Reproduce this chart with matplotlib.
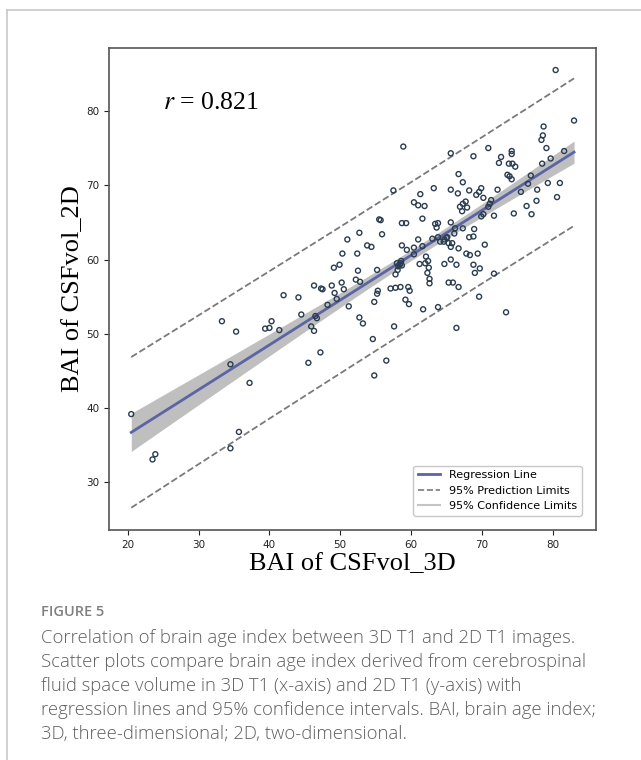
import numpy as np
import matplotlib
matplotlib.use("Agg")
import matplotlib.pyplot as plt
from matplotlib.lines import Line2D

# BAI of CSFvol_3D (x) vs BAI of CSFvol_2D (y)
bai_3d = [
    20.5, 23.5, 23.9, 33.3, 34.5, 34.5, 35.3, 35.7, 37.2, 39.4, 40.0, 40.3, 41.4, 42.0,
    44.1, 44.5, 45.5, 45.9, 46.3, 46.5, 46.7, 46.3, 47.3, 47.5, 47.2, 48.2, 48.8, 49.2,
    49.5, 50.2, 50.5, 51.2,
    49.1, 49.9, 52.5, 52.2, 52.8, 52.7, 53.2, 55.2, 55.3, 55.2, 54.8, 54.6, 56.5, 57.6,
    57.1, 57.8, 58.5, 59.6, 59.8, 59.2, 59.7, 58.1, 57.8, 58.4, 58.5, 58.0, 58.2, 58.6,
    58.7, 61.2, 62.5, 62.3, 62.6, 62.6, 61.7, 63.8, 64.7, 65.3, 65.9, 66.7, 69.6, 73.4,
    66.4, 54.8,
    51.0, 52.7, 55.5, 55.7, 55.9, 53.8, 54.4, 50.3, 52.4, 57.5, 58.9, 61.3, 63.2, 60.4,
    61.0, 61.9, 61.6, 63.4, 63.8, 63.6, 58.7, 59.3, 58.7, 59.4, 61.0, 63.0, 63.8, 64.1,
    64.7, 65.0, 65.3, 60.4, 62.1, 60.4, 61.6, 62.0, 62.4,
    65.6, 66.6, 68.2, 69.2, 69.6, 69.9, 70.2, 72.2, 75.5, 77.8, 77.7, 80.6, 76.3, 77.0,
    74.5, 71.7, 71.3, 71.1, 70.9, 70.2, 69.9, 67.7, 67.3, 66.9, 67.2, 67.9, 65.6, 67.3,
    66.2, 68.9, 68.8, 68.2, 66.1, 65.1, 64.6, 65.8, 65.6, 66.7, 70.4, 67.8, 68.3, 69.4,
    65.6, 66.4, 69.7, 69.0, 71.7, 68.8,
    80.4, 83.0, 78.7, 78.6, 78.4, 79.1, 81.6, 79.7, 78.5, 76.9, 79.3, 81.0, 76.5, 74.2,
    74.2, 73.8, 74.3, 74.7, 73.6, 73.9, 74.2, 72.7, 72.4, 70.9, 68.8, 65.6, 66.7, 67.3,
]
bai_2d = [
    39.2, 33.1, 33.8, 51.7, 45.9, 34.6, 50.3, 36.8, 43.4, 50.7, 50.8, 51.7, 50.5, 55.2,
    54.9, 52.6, 46.1, 51.0, 50.4, 52.4, 52.1, 56.5, 56.1, 56.0, 47.5, 53.9, 56.5, 55.5,
    54.7, 56.9, 56.0, 53.7,
    58.9, 59.3, 58.5, 57.3, 57.0, 52.2, 51.4, 58.6, 55.8, 55.4, 54.3, 49.3, 46.4, 51.0,
    56.1, 56.2, 56.3, 56.3, 55.8, 54.6, 54.0, 58.6, 58.0, 59.3, 59.5, 59.5, 59.1, 59.8,
    59.2, 59.4, 58.9, 58.2, 57.4, 56.8, 53.3, 53.6, 59.4, 56.9, 56.9, 56.3, 55.0, 52.9,
    50.8, 44.4,
    62.7, 63.6, 65.4, 65.3, 63.4, 61.9, 61.7, 60.8, 60.8, 69.3, 75.2, 68.8, 69.6, 67.7,
    67.3, 67.2, 65.5, 64.8, 64.9, 64.3, 64.9, 64.9, 61.9, 61.3, 62.7, 62.8, 63.0, 62.4,
    62.7, 62.9, 62.2, 60.7, 60.4, 61.6, 61.8, 59.5, 59.8,
    69.4, 68.9, 69.3, 68.7, 69.1, 69.6, 68.3, 69.4, 69.1, 69.4, 67.9, 68.4, 67.2, 66.1,
    66.2, 65.9, 68.0, 67.5, 67.1, 66.1, 65.8, 67.8, 67.5, 67.1, 66.5, 67.0, 65.0, 64.2,
    64.2, 64.1, 63.1, 63.0, 63.5, 63.0, 62.4, 62.2, 61.7, 61.5, 62.0, 60.8, 60.6, 60.8,
    60.0, 59.3, 58.8, 58.2, 58.1, 59.3,
    85.5, 78.7, 77.9, 76.7, 76.1, 75.0, 74.6, 73.6, 72.9, 71.3, 70.3, 70.3, 70.2, 74.6,
    74.2, 72.9, 72.9, 72.5, 71.4, 71.2, 70.8, 73.8, 73.0, 75.0, 73.9, 74.3, 71.5, 70.4,
]
r_text = "0.821"
legend_labels = ["Regression Line", "95% Prediction Limits", "95% Confidence Limits"]
caption_head = "FIGURE 5"
caption_lines = [
    "Correlation of brain age index between 3D T1 and 2D T1 images.",
    "Scatter plots compare brain age index derived from cerebrospinal",
    "fluid space volume in 3D T1 (x-axis) and 2D T1 (y-axis) with",
    "regression lines and 95% confidence intervals. BAI, brain age index;",
    "3D, three-dimensional; 2D, two-dimensional.",
]

x = np.array(bai_3d)
y = np.array(bai_2d)

# ordinary least squares fit with confidence / prediction bands
n = len(x)
slope, intercept = np.polyfit(x, y, 1)
resid = y - (slope * x + intercept)
s = np.sqrt(np.sum(resid ** 2) / (n - 2))
sxx = np.sum((x - x.mean()) ** 2)
t_val = 1.973
xs = np.linspace(x.min(), x.max(), 200)
fit = slope * xs + intercept
se_mean = s * np.sqrt(1 / n + (xs - x.mean()) ** 2 / sxx)
se_pred = s * np.sqrt(1 + 1 / n + (xs - x.mean()) ** 2 / sxx)

plt.rcParams["mathtext.fontset"] = "stix"

fig = plt.figure(figsize=(6.41, 7.6), dpi=100)
ax = fig.add_axes([0.1705, 0.3026, 0.7593, 0.6346])

ax.fill_between(xs, fit - t_val * se_mean, fit + t_val * se_mean,
                color="#b4b4b4", alpha=0.85, lw=0, zorder=1)
ax.plot(xs, fit + t_val * se_pred, ls="--", color="#7a7a7a", lw=1.3, zorder=2)
ax.plot(xs, fit - t_val * se_pred, ls="--", color="#7a7a7a", lw=1.3, zorder=2)
ax.plot(xs, fit, color="#5b64a4", lw=2.0, zorder=3)
ax.scatter(x, y, s=13, facecolors="none", edgecolors="#2a3c50", linewidths=1.0, zorder=4)

ax.set_xlim(17.4, 86.1)
ax.set_ylim(23.6, 88.5)
ax.set_xticks([20, 30, 40, 50, 60, 70, 80])
ax.set_yticks([30, 40, 50, 60, 70, 80])
ax.tick_params(labelsize=7.5, length=3.5, width=0.8, colors="#222222")
for sp in ax.spines.values():
    sp.set_color("#555555")
    sp.set_linewidth(1.2)

ax.set_xlabel("BAI of CSFvol_3D", family="Liberation Serif", fontsize=19, labelpad=2)
ax.set_ylabel("BAI of CSFvol_2D", family="Liberation Serif", fontsize=19, labelpad=2)
ax.text(0.11, 0.885, "$r$ = " + r_text, transform=ax.transAxes, family="Liberation Serif",
        fontsize=18.5, va="center", ha="left")

handles = [
    Line2D([], [], color="#5b64a4", lw=2.0),
    Line2D([], [], color="#7a7a7a", lw=1.2, ls="--"),
    Line2D([], [], color="#c4c4c4", lw=1.5),
]
ax.legend(handles, legend_labels, loc="lower right", fontsize=8,
          frameon=True, edgecolor="#bbbbbb", fancybox=True, borderaxespad=1.3)

# outer frame (top and left edges)
fig.add_artist(Line2D([6.5 / 641, 1.0], [1 - 10 / 760, 1 - 10 / 760],
                      color="#c8c8c8", lw=1.2, transform=fig.transFigure))
fig.add_artist(Line2D([6.5 / 641, 6.5 / 641], [0.0, 1 - 10 / 760],
                      color="#c8c8c8", lw=1.2, transform=fig.transFigure))

fig.text(41 / 641, 1 - 612 / 760, caption_head, family="Open Sans", fontsize=10.5,
         weight="semibold", color="#808080", va="center", ha="left")
for i, line in enumerate(caption_lines):
    fig.text(41 / 641, 1 - (638 + 24 * i) / 760, line, family="Open Sans", fontsize=13.3,
             weight="light", color="#5f5f5f", va="center", ha="left")

fig.savefig("out.png", dpi=100)
